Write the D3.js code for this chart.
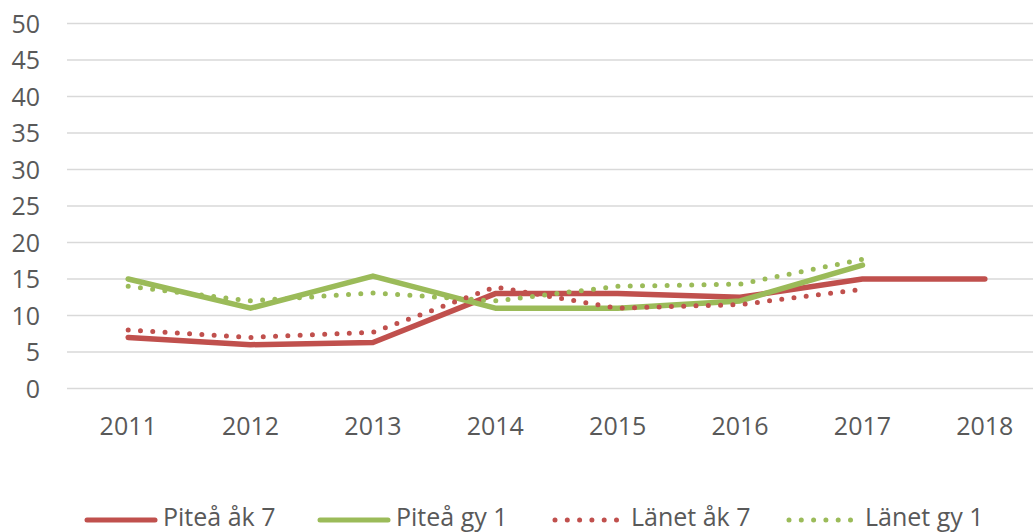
<!DOCTYPE html>
<html lang="sv">
<head>
<meta charset="utf-8">
<script src="https://d3js.org/d3.v7.min.js"></script>
<style>
  body { margin: 0; background: #fff; }
  svg { display: block; }
  .axis text { font-family: "Open Sans", sans-serif; font-size: 25px; fill: #595959; }
  .axis path, .axis line { display: none; }
  .grid line { stroke: #d9d9d9; stroke-width: 1.5px; }
  .legend text { font-family: "Open Sans", sans-serif; font-size: 25px; fill: #595959; }
</style>
</head>
<body>
<div id="chart"></div>
<script>
  var years = ["2011", "2012", "2013", "2014", "2015", "2016", "2017", "2018"];
  var yTicks = [0, 5, 10, 15, 20, 25, 30, 35, 40, 45, 50];

  var pitea7 = [7, 6, 6.3, 13, 13, 12.5, 15, 15];
  var piteaGy1 = [15, 11, 15.4, 11, 11, 12, 16.9, null];
  var lanet7 = [8, 7, 7.7, 13.9, 11, 11.5, 13.6, null];
  var lanetGy1 = [14, 12, 13.1, 12, 14, 14.3, 17.7, null];

  var seriesNames = ["Piteå åk 7", "Piteå gy 1", "Länet åk 7", "Länet gy 1"];
  var seriesValues = [pitea7, piteaGy1, lanet7, lanetGy1];
  var seriesColors = ["#c0504d", "#9bbb59", "#c0504d", "#9bbb59"];
  var seriesDotted = [false, false, true, true];

  var W = 1033, H = 532;

  var svg = d3.select("#chart").append("svg")
    .attr("width", W)
    .attr("height", H);

  var x = d3.scaleBand().domain(years).range([67, 1046]);
  var y = d3.scaleLinear().domain([0, 50]).range([388.5, 23.5]);

  // horizontal gridlines
  svg.append("g").attr("class", "grid")
    .selectAll("line").data(yTicks).enter().append("line")
    .attr("x1", 67).attr("x2", W)
    .attr("y1", function(d) { return y(d); })
    .attr("y2", function(d) { return y(d); });

  svg.append("g").attr("class", "axis")
    .attr("transform", "translate(47,0)")
    .call(d3.axisLeft(y).tickValues(yTicks).tickSize(0).tickPadding(7))
    .selectAll("text").attr("dy", "0.35em");

  svg.append("g").attr("class", "axis")
    .attr("transform", "translate(0,409)")
    .call(d3.axisBottom(x).tickSize(0).tickPadding(8));

  var line = d3.line()
    .defined(function(d) { return d != null; })
    .x(function(d, i) { return x(years[i]) + x.bandwidth() / 2; })
    .y(function(d) { return y(d); });

  seriesValues.forEach(function(vals, k) {
    var p = svg.append("path")
      .datum(vals)
      .attr("fill", "none")
      .attr("stroke", seriesColors[k])
      .attr("stroke-width", seriesDotted[k] ? 5 : 5.5)
      .attr("stroke-linecap", "round")
      .attr("stroke-linejoin", "round")
      .attr("d", line);
    if (seriesDotted[k]) p.attr("stroke-dasharray", "0 12.3");
  });

  var legendX = [85, 318, 553, 787];
  var legend = svg.selectAll(".legend")
    .data(seriesNames).enter().append("g")
    .attr("class", "legend")
    .attr("transform", function(d, i) { return "translate(" + legendX[i] + ",518)"; });

  legend.append("line")
    .attr("x1", 2).attr("x2", 70)
    .attr("y1", 2).attr("y2", 2)
    .attr("stroke", function(d, i) { return seriesColors[i]; })
    .attr("stroke-width", 5)
    .attr("stroke-linecap", "round")
    .attr("stroke-dasharray", function(d, i) { return seriesDotted[i] ? "0 12.3" : null; });

  legend.append("text")
    .attr("x", 78)
    .attr("dy", "0.3em")
    .text(function(d) { return d; });
</script>
</body>
</html>
